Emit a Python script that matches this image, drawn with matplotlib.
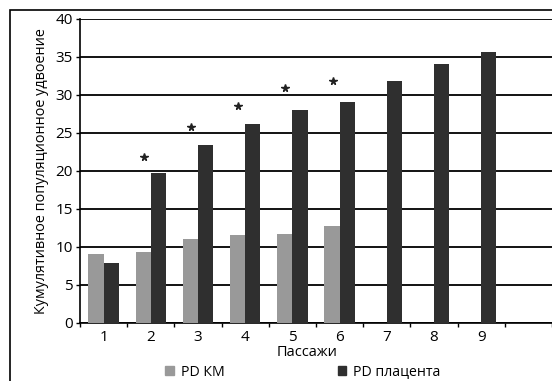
import matplotlib
matplotlib.use("Agg")
import matplotlib.pyplot as plt
from matplotlib.patches import Rectangle, Patch
import numpy as np

plt.rcParams['font.family'] = ['Open Sans', 'DejaVu Sans']

# данные
passages = [1, 2, 3, 4, 5, 6, 7, 8, 9]
pd_km = [9.1, 9.4, 11.1, 11.6, 11.7, 12.7]
pd_placenta = [7.9, 19.7, 23.4, 26.2, 28.0, 29.1, 31.8, 34.1, 35.6]
star_groups = [2, 3, 4, 5, 6]
star_y = [21.8, 25.8, 28.6, 30.9, 31.8]
y_ticks = [0, 5, 10, 15, 20, 25, 30, 35, 40]

gray = "#999999"
dark = "#2f2f2f"
bw = 0.32

fig = plt.figure(figsize=(5.52, 3.81), dpi=100)
ax = fig.add_axes([80 / 552, 1 - 323 / 381, 1 - 80 / 552, (323 - 19) / 381])

x = np.array(passages, dtype=float)
ax.bar(x[:len(pd_km)] - bw / 2, pd_km, width=bw, color=gray, zorder=3, label="PD КМ")
ax.bar(x + bw / 2, pd_placenta, width=bw, color=dark, zorder=3, label="PD плацента")

# звездочки
ax.plot(np.array(star_groups) - 0.15, star_y, linestyle="none", marker="*",
        markersize=5.5, color="#222222", zorder=4)

ax.set_xlim(0.5, 0.5 + (552 - 80) / 47.5)
ax.set_ylim(0, 40)
ax.set_yticks(y_ticks)
ax.yaxis.grid(True, color="black", linewidth=1.3, zorder=1)
ax.set_axisbelow(True)

ax.set_xticks(passages)
ax.set_xticks(np.arange(0.5, 11, 1.0), minor=True)
ax.tick_params(axis="x", which="major", length=0, labelsize=11, pad=5)
ax.tick_params(axis="x", which="minor", length=3, width=1, direction="out")
ax.tick_params(axis="y", length=3, width=1, labelsize=11, pad=2)

for sp in ["top", "right"]:
    ax.spines[sp].set_visible(False)
for sp in ["left", "bottom"]:
    ax.spines[sp].set_linewidth(1.2)
    ax.spines[sp].set_color("black")

ax.set_ylabel("Кумулятивное популяционное удвоение", fontsize=10.4, labelpad=5)
fig.text(307 / 552, 1 - 353 / 381, "Пассажи", ha="center", va="center", fontsize=10.5)

handles = [Patch(color=gray), Patch(color=dark)]
fig.legend(handles, ["PD КМ", "PD плацента"], loc="center", ncol=2,
           bbox_to_anchor=(303 / 552, 1 - 372 / 381), frameon=False,
           fontsize=10.2, handlelength=0.6, handleheight=0.6,
           columnspacing=8.0, handletextpad=0.5, borderpad=0)

# рамка
fig.add_artist(Rectangle((10 / 552, -0.2), 1.2, 1.2 - 10 / 381,
                         transform=fig.transFigure, fill=False,
                         edgecolor="black", linewidth=1.2))

fig.savefig("out.png", dpi=100)
